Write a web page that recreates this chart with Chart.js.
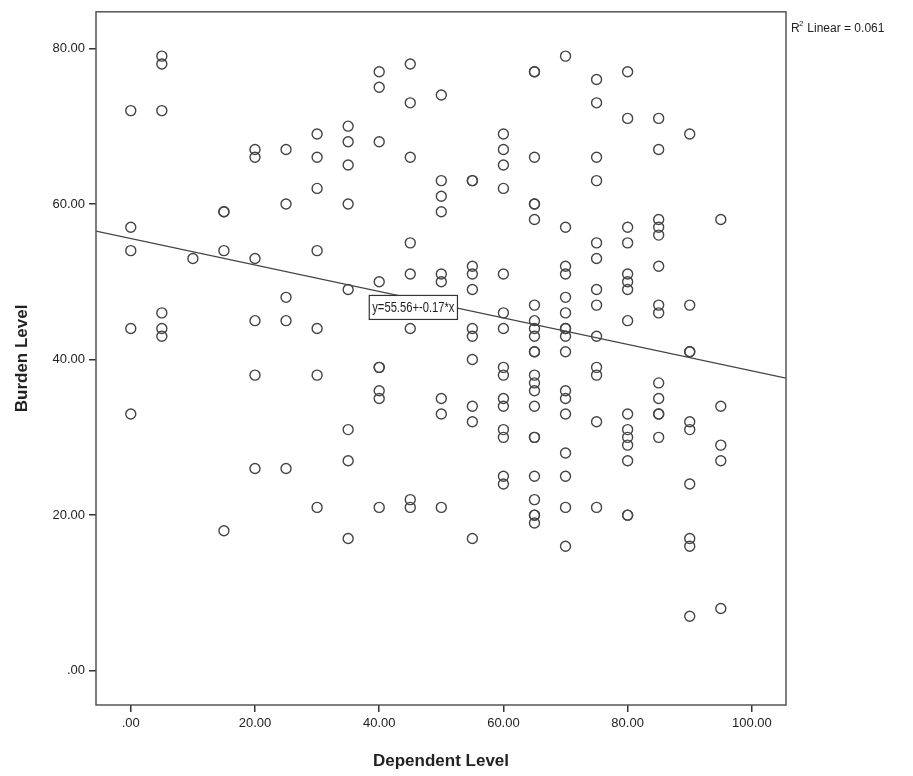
<!DOCTYPE html>
<html><head><meta charset="utf-8">
<script src="https://cdn.jsdelivr.net/npm/chart.js@4"></script>
<style>html,body{margin:0;padding:0;background:#fff}#w{width:913px;height:776px}</style>
</head><body><div id="w"><canvas id="c"></canvas></div>
<script>
const xCats = [0,5,10,15,20,25,30,35,40,45,50,55,60,65,70,75,80,85,90,95];
const yByX = [
 [72,57,54,44,33],
 [79,78,72,46,44,43],
 [53],
 [59,59,54,18],
 [67,66,53,45,38,26],
 [67,60,48,45,26],
 [69,66,62,54,44,38,21],
 [70,68,65,60,49,31,27,17],
 [77,75,68,50,39,39,36,35,21],
 [78,73,66,55,51,44,22,21],
 [74,63,61,59,51,50,35,33,21],
 [63,63,52,51,49,44,43,40,34,32,17],
 [69,67,65,62,51,46,44,39,38,35,34,31,30,25,24],
 [77,77,66,60,60,58,47,45,44,43,41,41,38,37,36,34,30,30,25,22,20,20,19],
 [79,57,52,51,48,46,44,44,43,41,36,35,33,28,25,21,16],
 [76,73,66,63,55,53,49,47,43,39,38,32,21],
 [77,71,57,55,51,50,49,45,33,31,30,29,27,20,20],
 [71,67,58,57,56,52,47,46,37,35,33,33,30],
 [69,47,41,41,32,31,24,17,16,7],
 [58,34,29,27,8]
];
const fitIntercept = 55.56, fitSlope = -0.17;
const xMin = -5.6, xMax = 105.5, yMin = -4.4, yMax = 84.7;
const tickVals = [0,20,40,60,80,100];

const pts = [];
xCats.forEach((x,i)=>yByX[i].forEach(y=>pts.push({x,y})));
const fit = [{x:xMin,y:fitIntercept+fitSlope*xMin},{x:xMax,y:fitIntercept+fitSlope*xMax}];
const fmt = v => v===0 ? '.00' : v.toFixed(2);
const filt = s => { s.ticks = tickVals.filter(v=>v>=s.min&&v<=s.max).map(v=>({value:v})); };

const extras = {
  id:'extras',
  afterDatasetsDraw(ch){
    const {ctx, chartArea:a, scales:{x,y}} = ch;
    ctx.save();
    ctx.strokeStyle='#555'; ctx.lineWidth=1.5;
    ctx.strokeRect(a.left,a.top,a.right-a.left,a.bottom-a.top);
    const t='y=55.56+-0.17*x';
    ctx.font='14px "Liberation Sans", Arial, sans-serif';
    const sx=0.8;
    const w=ctx.measureText(t).width*sx;
    const cx=x.getPixelForValue(45.5), cy=y.getPixelForValue(46.7);
    ctx.fillStyle='#fff'; ctx.fillRect(cx-w/2-3,cy-12,w+6,24);
    ctx.strokeStyle='#333'; ctx.lineWidth=1.2; ctx.strokeRect(cx-w/2-3,cy-12,w+6,24);
    ctx.fillStyle='#222'; ctx.textAlign='center'; ctx.textBaseline='middle';
    ctx.save(); ctx.translate(cx,cy+1); ctx.scale(sx,1); ctx.fillText(t,0,0); ctx.restore();
    ctx.textAlign='left'; ctx.textBaseline='alphabetic';
    ctx.font='12px "Liberation Sans", Arial, sans-serif';
    ctx.fillText('R',791,32);
    ctx.font='8px "Liberation Sans", Arial, sans-serif';
    ctx.fillText('2',799,26);
    ctx.font='12px "Liberation Sans", Arial, sans-serif';
    ctx.fillText(' Linear = 0.061',804,32);
    ctx.restore();
  }
};

new Chart(document.getElementById('c'),{
  type:'scatter',
  data:{datasets:[
    {data:pts, pointStyle:'circle', pointRadius:5, pointBorderWidth:1.4, borderColor:'#444', backgroundColor:'rgba(0,0,0,0)', pointHoverRadius:5},
    {type:'line', data:fit, borderColor:'#444', borderWidth:1.3, pointRadius:0, fill:false}
  ]},
  plugins:[extras],
  options:{
    responsive:true, maintainAspectRatio:false, animation:false,
    layout:{padding:{top:10,right:127,left:8,bottom:0}},
    plugins:{legend:{display:false},tooltip:{enabled:false}},
    scales:{
      x:{type:'linear',min:xMin,max:xMax,afterBuildTicks:filt,
        afterFit(s){s.height=71;},
        grid:{drawOnChartArea:false,tickLength:7,color:'#333',lineWidth:1.5},
        border:{display:false},
        ticks:{callback:fmt,color:'#222',padding:4,maxRotation:0,font:{size:13,family:'"Liberation Sans", Arial, sans-serif'}},
        title:{display:true,text:'Dependent Level',color:'#222',padding:{top:8},font:{size:17,weight:'bold',family:'"Liberation Sans", Arial, sans-serif'}}},
      y:{type:'linear',min:yMin,max:yMax,afterBuildTicks:filt,
        afterFit(s){s.width=88;},
        grid:{drawOnChartArea:false,tickLength:7,color:'#333',lineWidth:1.5},
        border:{display:false},
        ticks:{callback:fmt,color:'#222',padding:4,font:{size:13,family:'"Liberation Sans", Arial, sans-serif'}},
        title:{display:true,text:'Burden Level',color:'#222',padding:{bottom:2},font:{size:17,weight:'bold',family:'"Liberation Sans", Arial, sans-serif'}}}
    }
  }
});
</script></body></html>
